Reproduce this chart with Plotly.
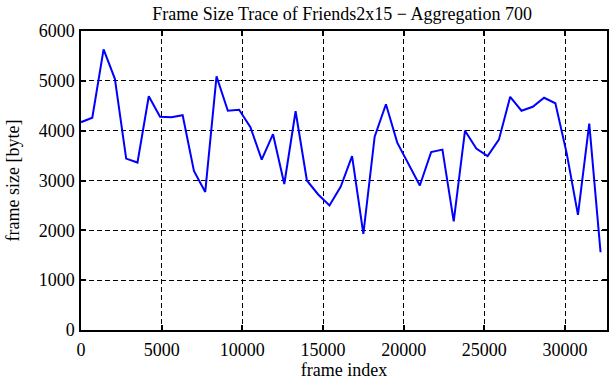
import plotly.graph_objects as go

frame_index = [0, 700, 1400, 2100, 2800, 3500, 4200, 4900, 5600, 6300,
               7000, 7700, 8400, 9100, 9800, 10500, 11200, 11900, 12600, 13300,
               14000, 14700, 15400, 16100, 16800, 17500, 18200, 18900, 19600, 20300,
               21000, 21700, 22400, 23100, 23800, 24500, 25200, 25900, 26600, 27300,
               28000, 28700, 29400, 30100, 30800, 31500, 32200]
frame_size = [4170, 4260, 5630, 5040, 3440, 3360, 4690, 4280, 4270, 4310,
              3190, 2770, 5090, 4400, 4420, 4070, 3420, 3930, 2930, 4390,
              3000, 2720, 2500, 2880, 3490, 1930, 3880, 4530, 3760, 3330,
              2900, 3570, 3620, 2180, 4000, 3640, 3490, 3820, 4680, 4400,
              4480, 4660, 4550, 3550, 2310, 4140, 1560]

x_ticks = [0, 5000, 10000, 15000, 20000, 25000, 30000]
x_tick_labels = ["0", "5000", "10000", "15000", "20000", "25000", "30000"]
y_ticks = [0, 1000, 2000, 3000, 4000, 5000, 6000]
y_tick_labels = ["0", "1000", "2000", "3000", "4000", "5000", "6000"]

FONT = "Liberation Serif"

fig = go.Figure()
fig.add_trace(go.Scatter(
    x=frame_index, y=frame_size, mode="lines",
    line=dict(color="#0000ff", width=2),
    showlegend=False, cliponaxis=True, hoverinfo="skip",
))

axis_common = dict(
    showline=True, linecolor="black", linewidth=1.5, mirror="allticks",
    ticks="inside", ticklen=5, tickwidth=1.5, tickcolor="black",
    showgrid=True, gridcolor="black", gridwidth=1, griddash="5px,3px",
    zeroline=False, automargin=False,
    tickfont=dict(family=FONT, size=18, color="black"),
)

fig.update_layout(
    width=611, height=380,
    margin=dict(l=81, r=4, t=31, b=50, autoexpand=False),
    paper_bgcolor="white", plot_bgcolor="white",
    title=dict(text="Frame Size Trace of Friends2x15 \u2212 Aggregation 700",
               x=0.56, xanchor="center", y=0.965, yanchor="middle",
               font=dict(family=FONT, size=18, color="black")),
    xaxis=dict(range=[0, 32600], tickvals=x_ticks, ticktext=x_tick_labels,
               ticklabelstandoff=3,
               title=dict(text="frame index", standoff=4,
                          font=dict(family=FONT, size=18, color="black")),
               **axis_common),
    yaxis=dict(range=[0, 6000], tickvals=y_ticks, ticktext=y_tick_labels,
               ticklabelstandoff=1,
               title=dict(text="frame size [byte]", standoff=14,
                          font=dict(family=FONT, size=18, color="black")),
               **axis_common),
)

fig.write_html(
    "out.html",
    config={"displayModeBar": False},
    post_script="document.body.style.margin='0';document.body.style.overflow='hidden';",
)
